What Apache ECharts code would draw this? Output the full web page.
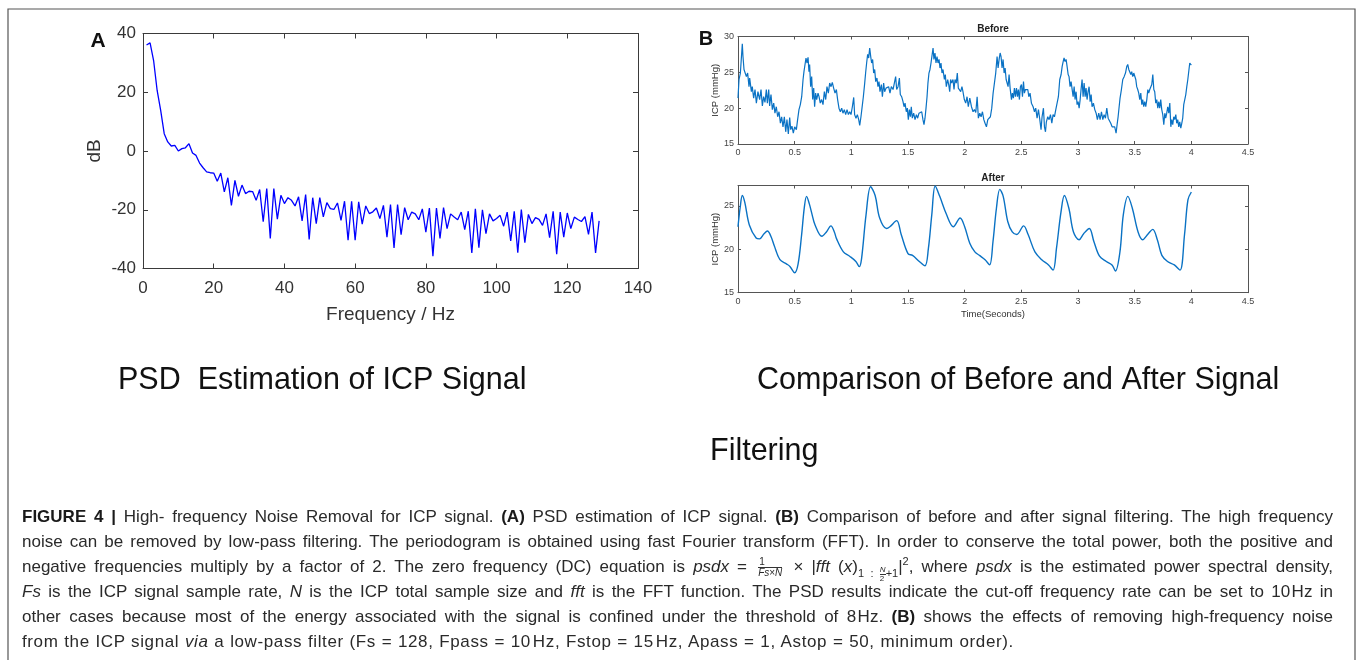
<!DOCTYPE html>
<html>
<head>
<meta charset="utf-8">
<script src="https://cdn.jsdelivr.net/npm/echarts@6/dist/echarts.min.js"></script>
<style>
html,body{margin:0;padding:0;background:#fff;}
#wrap{position:relative;width:1357px;height:660px;overflow:hidden;}
#chart{position:absolute;left:0;top:0;width:1357px;height:660px;}
.cap{position:absolute;left:22px;width:1311px;height:25px;line-height:25px;font-family:"Liberation Sans",Arial,sans-serif;font-size:17px;letter-spacing:0;color:#2a2a2a;white-space:nowrap;text-align:justify;text-align-last:justify;}
.cap.last{text-align:left;text-align-last:left;letter-spacing:0.62px;word-spacing:0.4px;}
.cap b{font-weight:bold;color:#1a1a1a;}
.frac{display:inline-flex;flex-direction:column;vertical-align:middle;font-size:10px;line-height:10px;text-align:center;margin:0 3px;letter-spacing:0;}
.frac>span:first-child{border-bottom:0.8px solid #333;padding:0 1px;}
.sub{font-size:11px;position:relative;top:5px;letter-spacing:0;}
.subfrac{display:inline-flex;flex-direction:column;vertical-align:middle;font-size:8px;line-height:8px;text-align:center;}
.subfrac>span:first-child{border-bottom:0.6px solid #333;}
sup{font-size:11px;line-height:0;}
</style>
</head>
<body>
<div id="wrap">
<div id="chart"></div>
<div class="cap" style="top:504px"><b>FIGURE 4 |</b> High- frequency Noise Removal for ICP signal. <b>(A)</b> PSD estimation of ICP signal. <b>(B)</b> Comparison of before and after signal filtering. The high frequency</div>
<div class="cap" style="top:529px">noise can be removed by low-pass filtering. The periodogram is obtained using fast Fourier transform (FFT). In order to conserve the total power, both the positive and</div>
<div class="cap" style="top:554px">negative frequencies multiply by a factor of 2. The zero frequency (DC) equation is <i>psdx</i> = <span class="frac"><span>1</span><span><i>Fs</i>×<i>N</i></span></span> × |<i>fft</i> (<i>x</i>)<span class="sub">1 : <span class="subfrac"><span><i>N</i></span><span>2</span></span>+1</span>|<sup>2</sup>, where <i>psdx</i> is the estimated power spectral density,</div>
<div class="cap" style="top:579px"><i>Fs</i> is the ICP signal sample rate, <i>N</i> is the ICP total sample size and <i>fft</i> is the FFT function. The PSD results indicate the cut-off frequency rate can be set to 10&#8202;Hz in</div>
<div class="cap" style="top:604px">other cases because most of the energy associated with the signal is confined under the threshold of 8&#8202;Hz. <b>(B)</b> shows the effects of removing high-frequency noise</div>
<div class="cap last" style="top:629px">from the ICP signal <i>via</i> a low-pass filter (Fs = 128, Fpass = 10&#8202;Hz, Fstop = 15&#8202;Hz, Apass = 1, Astop = 50, minimum order).</div>
</div>
<script>
// ---------- Panel A: PSD (dB) at frequency bins 1..129 Hz ----------
const psdDb = [36.1,36.8,30.8,20.6,13.8,5.9,3.1,1.7,1.9,0,0.8,1.1,2.5,-0.7,-1.5,-4.1,-5.7,-7.1,-7.4,-7.5,
-10.3,-7.5,-13.9,-9.1,-18.5,-10.0,-15.4,-11.6,-14.5,-13.7,-13.8,-16.8,-13.1,-24.1,-12.8,-29.8,-12.8,-23.2,-15.1,-17.9,
-15.9,-16.8,-18.7,-15.6,-23.8,-14.8,-30.1,-15.9,-24.7,-15.9,-22.4,-17.6,-19.6,-19.9,-17.7,-23.6,-17.1,-30.4,-17.1,-30.4,
-17.3,-24.9,-18.7,-21.3,-20.7,-19.4,-23.0,-18.5,-29.3,-18.2,-33.0,-18.2,-28.5,-19.3,-23.4,-20.8,-21.4,-23.4,-19.7,-27.6,
-19.4,-35.8,-19.4,-29.8,-19.3,-26.4,-21.4,-22.5,-23.4,-20.8,-26.8,-20.5,-34.7,-19.7,-32.9,-20.0,-28.1,-21.4,-23.8,-23.0,
-21.9,-25.6,-20.8,-30.6,-20.5,-34.6,-19.9,-31.2,-21.6,-24.7,-22.7,-23.3,-25.3,-21.4,-29.5,-20.5,-35.1,-20.8,-29.3,-21.1,
-26.4,-22.5,-23.3,-24.0,-22.3,-28.4,-20.8,-34.7,-23.8];
const psdFirstFreq = 1;
const psdTicksX = [0, 140, 20];   // min, max, interval
const psdTicksY = [-40, 40, 20];

// ---------- Panel B: ICP before filtering [time s, mmHg] ----------
const beforeSignal = [
[0,21.4],[0.009,24.0],[0.021,24.9],[0.029,25.1],[0.038,29.0],[0.044,27.2],[0.053,25.4],[0.065,25.3],[0.074,24.4],[0.085,24.9],
[0.097,23.0],[0.103,24.2],[0.118,22.3],[0.126,23.0],[0.138,21.4],[0.15,22.6],[0.162,20.7],[0.176,22.3],[0.191,21.2],[0.203,22.6],
[0.215,20.3],[0.226,21.6],[0.238,20.8],[0.25,22.6],[0.259,20.7],[0.271,22.6],[0.279,20.3],[0.291,21.9],[0.303,19.8],[0.315,20.7],
[0.326,19.3],[0.338,20.2],[0.35,18.8],[0.362,19.5],[0.374,17.9],[0.385,18.8],[0.397,17.4],[0.409,18.8],[0.421,16.7],[0.432,18.4],
[0.444,16.4],[0.456,18.7],[0.465,17.0],[0.476,17.5],[0.488,16.5],[0.5,17.4],[0.515,17.0],[0.526,18.4],[0.538,19.8],[0.55,20.5],
[0.562,21.6],[0.574,24.0],[0.582,25.1],[0.591,24.9],[0.6,27.0],[0.609,26.3],[0.618,27.1],[0.626,25.1],[0.632,26.1],[0.641,23.0],
[0.65,24.4],[0.659,21.2],[0.668,22.8],[0.676,20.2],[0.685,22.1],[0.694,21.2],[0.706,22.1],[0.715,21.6],[0.726,20.7],[0.738,21.2],
[0.75,20.5],[0.762,22.3],[0.774,21.2],[0.785,23.0],[0.797,22.1],[0.809,23.5],[0.821,23.0],[0.832,23.6],[0.844,22.8],[0.856,22.1],
[0.868,22.6],[0.879,21.2],[0.891,20.0],[0.903,19.5],[0.915,20.0],[0.926,19.3],[0.938,19.8],[0.95,19.1],[0.962,19.8],[0.974,19.1],
[0.985,19.5],[0.997,19.1],[1.009,20.2],[1.021,21.5],[1.029,19.1],[1.041,18.6],[1.053,19.1],[1.065,18.4],[1.074,17.6],[1.085,18.8],
[1.094,20.0],[1.106,21.6],[1.118,23.5],[1.126,24.9],[1.135,26.3],[1.144,27.5],[1.153,27.0],[1.162,28.4],[1.171,27.2],[1.179,26.3],
[1.188,26.8],[1.197,24.9],[1.206,25.4],[1.215,23.7],[1.226,24.2],[1.235,23.0],[1.244,23.7],[1.253,22.3],[1.265,23.3],[1.274,21.6],
[1.285,23.5],[1.294,22.3],[1.306,22.8],[1.318,22.6],[1.329,23.0],[1.341,22.1],[1.353,23.0],[1.368,22.6],[1.382,22.8],[1.391,24.4],
[1.4,22.6],[1.412,23.0],[1.424,24.2],[1.432,21.9],[1.444,21.6],[1.456,20.9],[1.465,20.2],[1.474,20.7],[1.485,19.5],[1.494,20.0],
[1.503,18.4],[1.512,19.8],[1.521,18.8],[1.529,20.2],[1.538,18.6],[1.55,19.3],[1.562,18.4],[1.574,19.1],[1.585,18.6],[1.597,19.3],
[1.609,19.1],[1.621,19.5],[1.632,18.4],[1.641,17.7],[1.65,18.6],[1.659,20.0],[1.668,21.6],[1.676,23.5],[1.685,24.9],[1.694,25.4],
[1.703,26.3],[1.712,26.1],[1.721,28.4],[1.729,26.8],[1.738,27.7],[1.747,26.3],[1.756,27.2],[1.765,26.3],[1.774,26.8],[1.782,25.6],
[1.791,26.3],[1.8,24.9],[1.809,25.4],[1.821,24.0],[1.829,24.7],[1.838,23.0],[1.85,24.0],[1.859,23.3],[1.868,22.3],[1.876,24.0],
[1.885,23.5],[1.897,24.0],[1.906,22.6],[1.915,24.0],[1.926,23.5],[1.935,24.9],[1.944,22.8],[1.956,23.0],[1.965,22.3],[1.976,23.0],
[1.985,22.3],[1.997,21.2],[2.009,20.7],[2.021,21.6],[2.032,20.2],[2.045,21.4],[2.06,20.2],[2.074,19.5],[2.086,19.8],[2.098,19.4],
[2.11,21.6],[2.121,18.6],[2.133,19.3],[2.145,18.8],[2.157,19.5],[2.169,18.4],[2.18,17.9],[2.192,17.4],[2.204,18.4],[2.216,18.6],
[2.227,18.8],[2.239,20.0],[2.251,22.1],[2.263,22.3],[2.274,24.9],[2.286,27.2],[2.295,25.6],[2.304,26.8],[2.313,27.7],[2.321,27.2],
[2.33,25.6],[2.339,26.8],[2.348,24.9],[2.357,25.6],[2.366,24.0],[2.374,24.2],[2.383,23.0],[2.392,24.7],[2.401,22.8],[2.413,21.2],
[2.421,22.1],[2.43,21.4],[2.439,22.8],[2.448,21.6],[2.457,22.8],[2.466,21.6],[2.474,22.6],[2.483,21.2],[2.492,23.0],[2.501,23.3],
[2.51,21.6],[2.519,23.7],[2.527,22.1],[2.536,22.6],[2.545,22.8],[2.557,22.6],[2.566,21.6],[2.577,22.1],[2.589,20.7],[2.604,20.2],
[2.616,19.5],[2.627,20.0],[2.639,18.6],[2.651,19.8],[2.663,18.4],[2.674,17.0],[2.683,18.8],[2.695,20.0],[2.704,17.4],[2.713,16.7],
[2.721,18.1],[2.733,18.8],[2.745,18.4],[2.757,19.1],[2.769,17.9],[2.78,19.1],[2.792,18.8],[2.804,19.8],[2.816,20.0],[2.827,21.6],
[2.839,24.0],[2.851,24.7],[2.86,25.8],[2.869,26.5],[2.877,27.0],[2.886,26.5],[2.895,26.8],[2.904,25.8],[2.913,24.7],[2.921,24.4],
[2.93,23.0],[2.939,23.7],[2.948,23.5],[2.957,21.6],[2.966,23.0],[2.974,21.2],[2.983,22.3],[2.992,20.5],[3.001,20.9],[3.01,20.0],
[3.019,21.2],[3.027,22.6],[3.036,24.0],[3.045,21.6],[3.054,23.5],[3.063,21.6],[3.071,22.8],[3.08,21.2],[3.089,22.3],[3.098,23.0],
[3.107,20.9],[3.116,21.9],[3.124,20.2],[3.136,20.7],[3.148,19.8],[3.16,19.3],[3.171,18.4],[3.183,19.3],[3.195,18.4],[3.207,19.5],
[3.219,18.4],[3.23,19.1],[3.242,18.6],[3.254,20.0],[3.266,18.6],[3.277,18.4],[3.289,17.9],[3.301,17.4],[3.313,17.2],[3.324,17.4],
[3.336,16.5],[3.345,17.7],[3.354,18.8],[3.363,20.2],[3.371,21.4],[3.383,22.6],[3.395,24.0],[3.407,24.4],[3.419,24.9],[3.43,25.8],
[3.439,26.1],[3.448,25.4],[3.457,25.6],[3.466,24.7],[3.474,25.1],[3.483,24.4],[3.492,24.9],[3.501,24.9],[3.51,24.0],[3.518,23.0],
[3.527,22.6],[3.536,22.1],[3.545,21.2],[3.554,22.1],[3.563,20.5],[3.571,21.2],[3.58,20.2],[3.589,20.9],[3.598,20.2],[3.607,21.2],
[3.616,22.6],[3.624,22.1],[3.633,22.6],[3.642,22.8],[3.651,23.3],[3.66,24.7],[3.669,22.6],[3.677,22.3],[3.686,20.7],[3.695,21.2],
[3.704,20.0],[3.713,20.9],[3.721,20.0],[3.73,21.2],[3.739,19.8],[3.748,19.1],[3.757,17.7],[3.766,19.3],[3.774,18.6],[3.783,19.3],
[3.792,20.2],[3.801,19.3],[3.81,20.7],[3.819,17.4],[3.827,18.4],[3.836,17.7],[3.845,18.8],[3.854,18.4],[3.863,19.1],[3.871,17.9],
[3.88,18.4],[3.889,17.4],[3.898,18.1],[3.907,17.2],[3.916,17.9],[3.924,18.6],[3.933,20.5],[3.942,20.7],[3.951,21.9],[3.96,23.0],
[3.969,24.0],[3.977,24.2],[3.986,26.3],[3.995,26.5],[4.0,26.0]];

// ---------- Panel B: ICP after low-pass filtering [time s, mmHg] ----------
const afterSignal = [
[0,22.6],[0.02,24.9],[0.038,26.2],[0.06,25.4],[0.1,22.8],[0.16,21.3],[0.19,21.2],[0.23,21.8],[0.26,22.1],[0.29,21.5],
[0.32,20.4],[0.37,18.8],[0.43,18.3],[0.46,18.0],[0.5,17.3],[0.53,18.3],[0.56,21.5],[0.585,24.8],[0.605,26.1],[0.63,25.2],
[0.65,24.2],[0.68,22.8],[0.74,21.5],[0.78,22.0],[0.82,22.7],[0.85,22.0],[0.87,21.2],[0.93,19.7],[0.985,19.2],[1.04,18.6],
[1.07,18.0],[1.09,18.9],[1.13,24.0],[1.17,27.2],[1.21,26.2],[1.25,23.6],[1.31,22.4],[1.34,22.6],[1.40,23.3],[1.44,21.7],
[1.50,19.5],[1.54,19.3],[1.60,18.6],[1.65,18.1],[1.68,20.1],[1.71,24.0],[1.74,27.3],[1.78,26.1],[1.84,24.0],[1.90,22.6],
[1.96,23.6],[2.0,22.6],[2.045,20.7],[2.09,19.7],[2.13,19.3],[2.18,18.8],[2.22,18.2],[2.25,20.9],[2.28,24.7],[2.31,26.9],
[2.34,26.1],[2.38,23.2],[2.42,22.0],[2.46,21.7],[2.52,22.7],[2.56,21.7],[2.62,19.7],[2.68,18.8],[2.74,18.2],[2.78,17.6],
[2.81,20.1],[2.85,24.3],[2.88,26.2],[2.92,24.7],[2.96,22.0],[3.01,21.1],[3.05,21.8],[3.1,22.4],[3.14,20.9],[3.19,19.2],
[3.25,18.6],[3.30,18.2],[3.33,17.5],[3.37,19.7],[3.40,24.0],[3.44,26.1],[3.48,24.7],[3.53,22.0],[3.57,21.1],[3.62,21.8],
[3.66,22.3],[3.70,21.1],[3.74,19.3],[3.79,18.6],[3.85,18.2],[3.90,17.6],[3.94,21.7],[3.97,25.7],[4.0,26.6]];
const timeTicks = [0, 4.5, 0.5];
const beforeTicksY = [15, 30, 5];
const afterTicksY = [15, 27.35, 5];

// ---------- Texts ----------
const titleA = 'PSD  Estimation of ICP Signal';
const titleB1 = 'Comparison of Before and After Signal';
const titleB2 = 'Filtering';

const FONT = '"Liberation Sans", Arial, Helvetica, sans-serif';
const psdData = psdDb.map((v, i) => [psdFirstFreq + i, v]);

function ax(grid, ticks, opts) {
  return Object.assign({
    gridIndex: grid, type: 'value', min: ticks[0], max: ticks[1], interval: ticks[2],
    axisLine: {show: true, onZero: false, lineStyle: {color: '#3a3a3a', width: 1}},
    axisTick: {show: true, inside: true, length: 5, lineStyle: {color: '#3a3a3a'}},
    splitLine: {show: false}
  }, opts);
}
const smallTick = {show: true, inside: true, length: 3, lineStyle: {color: '#555'}};
const smallLine = {show: true, onZero: false, lineStyle: {color: '#555', width: 1}};

const chart = echarts.init(document.getElementById('chart'), null, {renderer: 'canvas'});
const option = {
  animation: false,
  backgroundColor: '#fff',
  grid: [
    {left: 143, top: 33.5, width: 495, height: 235},
    {left: 738, top: 36.5, width: 510, height: 107.5},
    {left: 738, top: 185.5, width: 510, height: 107.2}
  ],
  xAxis: [
    ax(0, psdTicksX, {position: 'bottom',
      axisLabel: {fontSize: 17, color: '#333', margin: 11, fontFamily: FONT},
      name: 'Frequency / Hz', nameLocation: 'middle', nameGap: 37,
      nameTextStyle: {fontSize: 19, color: '#333', fontFamily: FONT}}),
    ax(0, psdTicksX, {position: 'top', axisLabel: {show: false}}),
    ax(1, timeTicks, {position: 'bottom', axisLine: smallLine, axisTick: smallTick,
      axisLabel: {fontSize: 9, color: '#444', margin: 4, fontFamily: FONT}}),
    ax(1, timeTicks, {position: 'top', axisLine: smallLine, axisTick: smallTick, axisLabel: {show: false}}),
    ax(2, timeTicks, {position: 'bottom', axisLine: smallLine, axisTick: smallTick,
      axisLabel: {fontSize: 9, color: '#444', margin: 4, fontFamily: FONT},
      name: 'Time(Seconds)', nameLocation: 'middle', nameGap: 17,
      nameTextStyle: {fontSize: 9.5, color: '#333', fontFamily: FONT}}),
    ax(2, timeTicks, {position: 'top', axisLine: smallLine, axisTick: smallTick, axisLabel: {show: false}})
  ],
  yAxis: [
    ax(0, psdTicksY, {position: 'left',
      axisLabel: {fontSize: 17, color: '#333', margin: 7, fontFamily: FONT},
      name: 'dB', nameLocation: 'middle', nameGap: 39, nameRotate: 90,
      nameTextStyle: {fontSize: 19, color: '#333', fontFamily: FONT}}),
    ax(0, psdTicksY, {position: 'right', axisLabel: {show: false}}),
    ax(1, beforeTicksY, {position: 'left', axisLine: smallLine, axisTick: smallTick,
      axisLabel: {fontSize: 9, color: '#444', margin: 4, fontFamily: FONT},
      name: 'ICP (mmHg)', nameLocation: 'middle', nameGap: 15, nameRotate: 90,
      nameTextStyle: {fontSize: 9.5, color: '#333', fontFamily: FONT}}),
    ax(1, beforeTicksY, {position: 'right', axisLine: smallLine, axisTick: smallTick, axisLabel: {show: false}}),
    ax(2, afterTicksY, {position: 'left', axisLine: smallLine, axisTick: smallTick,
      axisLabel: {fontSize: 9, color: '#444', margin: 4, fontFamily: FONT, showMaxLabel: false},
      name: 'ICP (mmHg)', nameLocation: 'middle', nameGap: 15, nameRotate: 90,
      nameTextStyle: {fontSize: 9.5, color: '#333', fontFamily: FONT}}),
    ax(2, afterTicksY, {position: 'right', axisLine: smallLine, axisTick: smallTick, axisLabel: {show: false}})
  ],
  series: [
    {type: 'line', xAxisIndex: 0, yAxisIndex: 0, data: psdData, showSymbol: false,
     lineStyle: {color: '#0000ff', width: 1.3}},
    {type: 'line', xAxisIndex: 2, yAxisIndex: 2, data: beforeSignal, showSymbol: false,
     lineStyle: {color: '#0a72c4', width: 1.2}},
    {type: 'line', xAxisIndex: 4, yAxisIndex: 4, data: afterSignal, showSymbol: false, smooth: 0.35,
     lineStyle: {color: '#0a72c4', width: 1.4}}
  ],
  graphic: [
    {type: 'rect', shape: {x: 8, y: 9, width: 1347, height: 680}, style: {fill: 'none', stroke: '#555', lineWidth: 1.2}, silent: true},
    {type: 'text', x: 98, y: 41, style: {text: 'A', font: 'bold 21px ' + FONT, fill: '#111', textAlign: 'center', textVerticalAlign: 'middle'}},
    {type: 'text', x: 706, y: 39, style: {text: 'B', font: 'bold 20px ' + FONT, fill: '#111', textAlign: 'center', textVerticalAlign: 'middle'}},
    {type: 'text', x: 993, y: 29, style: {text: 'Before', font: 'bold 10px ' + FONT, fill: '#222', textAlign: 'center', textVerticalAlign: 'middle'}},
    {type: 'text', x: 993, y: 178, style: {text: 'After', font: 'bold 10px ' + FONT, fill: '#222', textAlign: 'center', textVerticalAlign: 'middle'}},
    {type: 'text', x: 118, y: 381, style: {text: titleA, font: '30.5px ' + FONT, fill: '#111', textAlign: 'left', textVerticalAlign: 'middle'}},
    {type: 'text', x: 757, y: 381, style: {text: titleB1, font: '30.5px ' + FONT, fill: '#111', textAlign: 'left', textVerticalAlign: 'middle'}},
    {type: 'text', x: 710, y: 452, style: {text: titleB2, font: '30.5px ' + FONT, fill: '#111', textAlign: 'left', textVerticalAlign: 'middle'}}
  ]
};
chart.setOption(option);
</script>
</body>
</html>
